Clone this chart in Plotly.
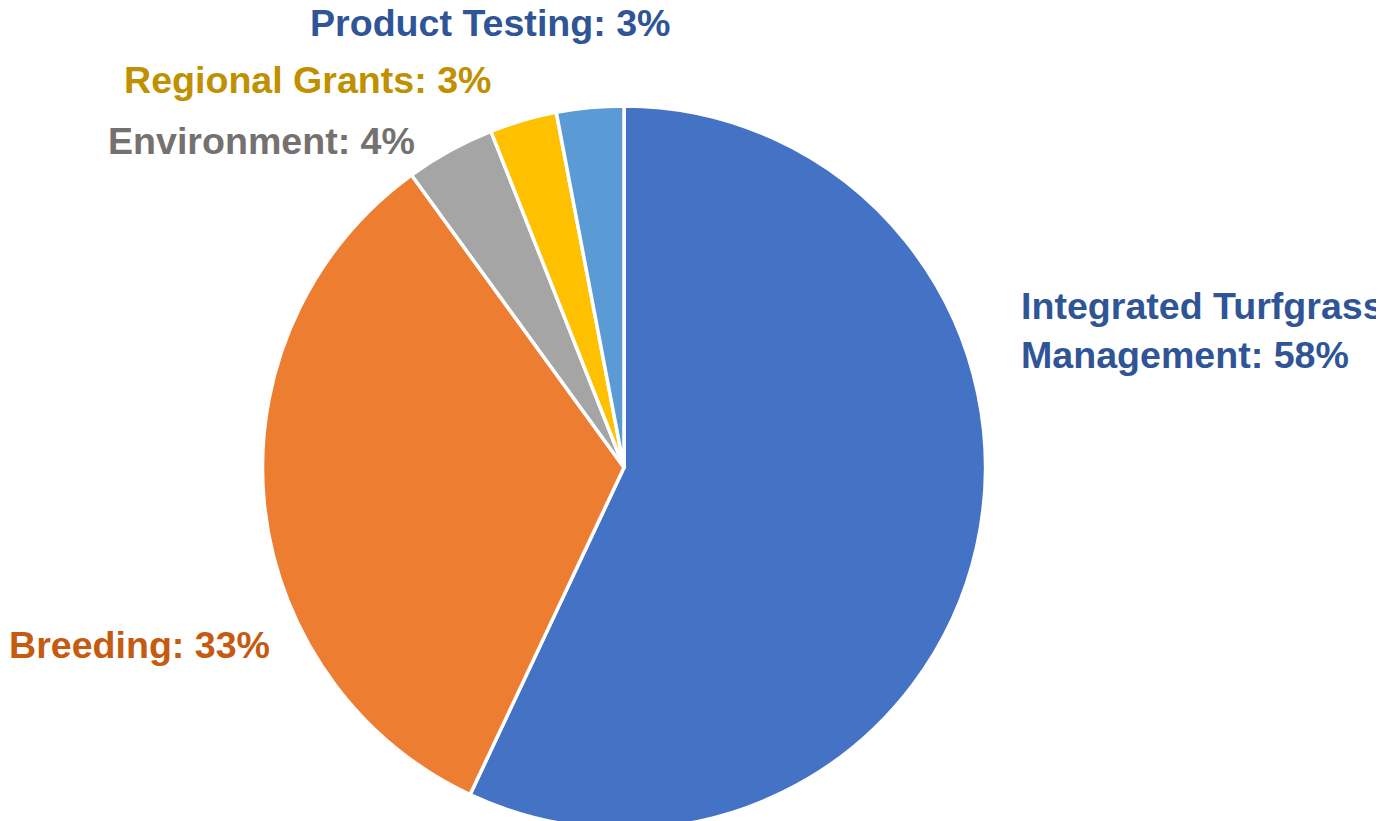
import plotly.graph_objects as go

W, H = 1384, 821
OFF = 8  # page body margin offset

categories = ["Integrated Turfgrass Management", "Breeding", "Environment",
              "Regional Grants", "Product Testing"]
values = [57, 33, 4, 3, 3]
label_texts = ["Integrated Turfgrass<br>Management: 58%", "Breeding: 33%",
               "Environment: 4%", "Regional Grants: 3%", "Product Testing: 3%"]
slice_colors = ["#4472C4", "#ED7D31", "#A5A5A5", "#FFC000", "#5B9BD5"]
label_colors = ["#2F5597", "#C55A11", "#767171", "#BF9000", "#2F5597"]

# label anchor positions in screen pixels (x, y, xanchor)
label_pos = [(1019, 330, "left"), (139, 645, "center"), (261, 141, "center"),
             (308, 80, "center"), (490, 23, "center")]

half = 361.5
cx = 624 - OFF
fig = go.Figure(go.Pie(
    labels=categories, values=values, sort=False, direction="clockwise",
    rotation=0, textinfo="none", hoverinfo="label+percent",
    marker=dict(colors=slice_colors, line=dict(color="white", width=3.5)),
    domain=dict(x=[(cx - 380) / W, (cx + 380) / W], y=[0, 2 * half / H]),
    showlegend=False,
))

for txt, col, (px, py, xa) in zip(label_texts, label_colors, label_pos):
    fig.add_annotation(
        x=(px - OFF) / W, y=1 - (py - OFF) / H, xref="paper", yref="paper",
        text="<b>" + txt.replace("<br>", "</b><br><b>") + "</b>",
        showarrow=False, xanchor=xa, yanchor="middle", align="left",
        font=dict(family="Liberation Sans, Arial, sans-serif", size=37.6, color=col),
    )

fig.update_layout(
    width=W, height=H, margin=dict(l=0, r=0, t=0, b=0),
    paper_bgcolor="white", plot_bgcolor="white",
)

fig.write_html("out.html")
